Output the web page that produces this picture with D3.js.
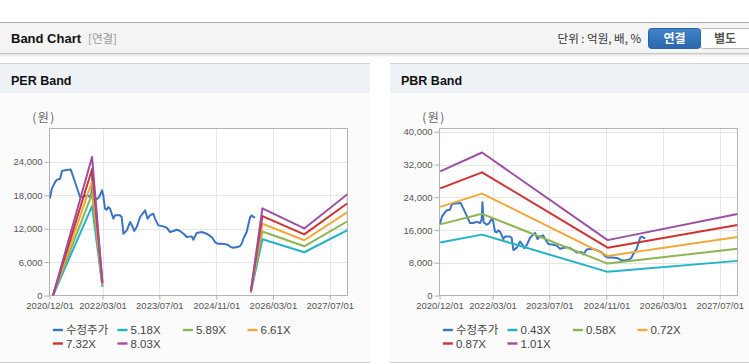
<!DOCTYPE html>
<html><head><meta charset="utf-8">
<script src="https://cdn.jsdelivr.net/npm/d3@7/dist/d3.min.js"></script>
<style>body{margin:0;background:#fff}svg{display:block}</style>
</head><body><svg id="c" width="749" height="364"></svg>
<script>
// ---------- DATA ----------
const xTickLabels = ["2020/12/01","2022/03/01","2023/07/01","2024/11/01","2026/03/01","2027/07/01"];
const xDomain = ["2020/12/01","2027/12/01"];

const priceDates = ["2020-12-04","2020-12-21","2021-01-19","2021-02-03","2021-03-01","2021-03-18","2021-04-13","2021-06-01","2021-06-18","2021-07-22","2021-08-20","2021-09-17","2021-10-16","2021-11-14","2021-11-28","2021-12-04","2021-12-14","2021-12-22","2022-01-10","2022-02-01","2022-02-24","2022-03-07","2022-03-22","2022-04-06","2022-04-19","2022-05-04","2022-06-02","2022-06-16","2022-07-28","2022-08-12","2022-08-27","2022-09-25","2022-10-23","2022-11-15","2022-11-27","2022-12-19","2023-01-17","2023-03-01","2023-03-22","2023-04-12","2023-05-10","2023-05-25","2023-06-22","2023-08-04","2023-09-03","2023-10-01","2023-10-30","2023-11-28","2023-12-25","2024-01-24","2024-02-22","2024-04-04","2024-04-18","2024-05-16","2024-06-28","2024-08-10","2024-09-23","2024-10-21","2024-11-11","2024-12-18","2025-02-01","2025-03-04","2025-03-27","2025-05-01","2025-05-22","2025-06-06","2025-06-21","2025-07-19","2025-08-18","2025-09-01","2025-09-15","2025-10-01"];
const priceValues = [17400,19200,20400,20820,20940,22380,22500,22620,21600,19500,17700,17700,18000,17700,18600,22800,18000,17700,17280,17700,18900,18000,15600,15420,15900,15600,13800,14400,14400,14100,11100,11700,13200,12300,11580,12300,14100,15300,13800,14400,14700,13800,12600,12420,12180,11400,11580,11820,11580,11100,10500,10620,10020,11220,11400,11100,10500,9600,9300,9300,9180,8700,8580,8700,8880,9300,10200,11400,14100,14400,14100,13980];

const perBandDates = ["2020-12-31","2021-12-01","2022-02-28","2022-03-01","2025-08-24","2025-12-01","2026-11-25","2027-12-01"];
const perNames = ["5.18X","5.89X","6.61X","7.32X","8.03X"];
const per518 = [0,16060,1550,null,520,10100,7770,11730];
const per589 = [0,18260,1770,null,590,11490,8840,13340];
const per661 = [0,20490,1980,null,660,12890,9920,14970];
const per732 = [0,22690,2200,null,730,14270,10980,16580];
const per803 = [0,24890,2410,null,800,15660,12050,18190];

const pbrBandDates = ["2020-12-07","2021-12-01","2024-11-12","2027-12-01"];
const pbrNames = ["0.43X","0.58X","0.72X","0.87X","1.01X"];
const pbr043 = [12940,14870,5780,8460];
const pbr058 = [17380,19950,7790,11450];
const pbr072 = [21650,24900,9670,14300];
const pbr087 = [26170,30090,11680,17200];
const pbr101 = [30330,34930,13530,19930];

const perYTicks = [0,6000,12000,18000,24000];
const pbrYTicks = [0,8000,16000,24000,32000,40000];
const priceName = "수정주가";

// ---------- STYLE ----------
const FONT = "'Liberation Sans', Arial, 'Noto Sans CJK KR', sans-serif";
const KFONT = "'Noto Sans CJK KR', 'Liberation Sans', sans-serif";
const colors = ["#3a74c3","#22b3c6","#8db552","#f2a83a","#d03232","#9b50a2"];

const svg = d3.select("#c");
svg.append("rect").attr("width",749).attr("height",364).attr("fill","#fff");

// header
const defs = svg.append("defs");
const sh = defs.append("linearGradient").attr("id","sh").attr("x1",0).attr("x2",0).attr("y1",0).attr("y2",1);
sh.append("stop").attr("offset","0").attr("stop-color","#000").attr("stop-opacity",0.12);
sh.append("stop").attr("offset","1").attr("stop-color","#000").attr("stop-opacity",0);
const bg = defs.append("linearGradient").attr("id","btn").attr("x1",0).attr("x2",0).attr("y1",0).attr("y2",1);
bg.append("stop").attr("offset","0").attr("stop-color","#4283cb");
bg.append("stop").attr("offset","1").attr("stop-color","#2a66ab");

svg.append("rect").attr("x",0).attr("y",22).attr("width",749).attr("height",1).attr("fill","#ababab");
svg.append("rect").attr("x",0).attr("y",23).attr("width",749).attr("height",30).attr("fill","#f4f4f4");
svg.append("rect").attr("x",0).attr("y",53).attr("width",749).attr("height",1).attr("fill","#c4c4c4");
svg.append("rect").attr("x",0).attr("y",54).attr("width",749).attr("height",3).attr("fill","url(#sh)");
svg.append("text").attr("x",11).attr("y",43).attr("font-family",FONT).attr("font-weight","bold")
  .attr("font-size",13).attr("fill","#111").text("Band Chart");
svg.append("text").attr("x",88).attr("y",43).attr("font-family",KFONT)
  .attr("font-size",11.5).attr("fill","#999").text("[연결]");
svg.append("text").attr("x",641).attr("y",43).attr("text-anchor","end").attr("font-family",KFONT)
  .attr("font-size",11.5).attr("fill","#333").text("단위 : 억원, 배, %");
svg.append("rect").attr("x",700.5).attr("y",28.5).attr("width",52).attr("height",20).attr("rx",2)
  .attr("fill","#fff").attr("stroke","#bcbcbc");
svg.append("rect").attr("x",648.5).attr("y",28.5).attr("width",52).attr("height",20).attr("rx",3)
  .attr("fill","url(#btn)").attr("stroke","#2a62a3");
svg.append("text").attr("x",674.5).attr("y",43).attr("text-anchor","middle").attr("font-family",KFONT)
  .attr("font-weight","bold").attr("font-size",12).attr("fill","#fff").text("연결");
svg.append("text").attr("x",725).attr("y",43).attr("text-anchor","middle").attr("font-family",KFONT)
  .attr("font-weight","bold").attr("font-size",12).attr("fill","#555").text("별도");

const parseD = d3.timeParse("%Y-%m-%d");
const parseT = d3.timeParse("%Y/%m/%d");
const fmtT = d3.timeFormat("%Y/%m/%d");

function panel(cfg){
  const g = svg.append("g");
  g.append("rect").attr("x",cfg.x0).attr("y",63).attr("width",cfg.w).attr("height",1).attr("fill","#d2d2d2");
  g.append("rect").attr("x",cfg.x0).attr("y",64).attr("width",cfg.w).attr("height",29).attr("fill","#eef2f7");
  g.append("rect").attr("x",cfg.x0).attr("y",93).attr("width",cfg.w).attr("height",269).attr("fill","#fbfbfb");
  g.append("rect").attr("x",cfg.x0).attr("y",362).attr("width",cfg.w).attr("height",1).attr("fill","#cfcfcf");
  g.append("text").attr("x",cfg.x0+11).attr("y",85).attr("font-family",FONT).attr("font-weight","bold")
    .attr("font-size",12.5).attr("fill","#111").text(cfg.title);

  const L = cfg.left, R = cfg.left+298, T = 128.5, B = 295.5;
  const x = d3.scaleTime().domain(xDomain.map(parseT)).range([L,R]);
  const y = d3.scaleLinear().domain([0,cfg.yMax]).range([B,T]);
  g.append("rect").attr("x",L).attr("y",T).attr("width",R-L).attr("height",B-T).attr("fill","#fff");

  const xt = xTickLabels.map(parseT);
  // grid
  g.append("g").selectAll("line").data(cfg.yTicks.filter(v=>v>0)).join("line")
    .attr("x1",L).attr("x2",R).attr("y1",d=>Math.round(y(d))+0.5).attr("y2",d=>Math.round(y(d))+0.5)
    .attr("stroke","#e6e6e6");
  g.append("g").selectAll("line").data(xt.slice(1)).join("line")
    .attr("x1",d=>Math.round(x(d))+0.5).attr("x2",d=>Math.round(x(d))+0.5).attr("y1",T).attr("y2",B)
    .attr("stroke","#e6e6e6");

  // axes via d3
  const yAxis = d3.axisLeft(y).tickValues(cfg.yTicks).tickSize(5).tickPadding(2).tickFormat(d3.format(","));
  const ya = g.append("g").attr("transform",`translate(${L},0)`).call(yAxis);
  const xAxis = d3.axisBottom(x).tickValues(xt).tickSize(4).tickPadding(3).tickFormat(fmtT);
  const xa = g.append("g").attr("transform",`translate(0,${B})`).call(xAxis);
  [ya,xa].forEach(a=>{
    a.select(".domain").remove();
    a.selectAll("line").attr("stroke","#b0b0b0");
    a.selectAll("text").attr("font-family",FONT).attr("font-size",9.5).attr("fill","#555");
  });
  g.append("rect").attr("x",L).attr("y",T).attr("width",R-L).attr("height",B-T)
    .attr("fill","none").attr("stroke","#b4b4b4");
  g.append("text").attr("x",L-5.5).attr("y",122).attr("text-anchor","middle").attr("font-family",KFONT)
    .attr("font-size",12).attr("letter-spacing",1.5).attr("fill","#666").text("(원)");

  const clipId = "clip"+cfg.x0;
  defs.append("clipPath").attr("id",clipId).append("rect").attr("x",L).attr("y",T).attr("width",R-L).attr("height",B-T);
  const lines = g.append("g").attr("clip-path",`url(#${clipId})`);
  const line = d3.line().defined(d=>d[1]!=null).x(d=>x(d[0])).y(d=>y(d[1]));

  const pd = priceDates.map((d,i)=>[parseD(d),priceValues[i]]);
  lines.append("path").attr("d",line(pd)).attr("fill","none").attr("stroke",colors[0])
    .attr("stroke-width",2).attr("stroke-linejoin","round");
  cfg.bands.forEach((vals,k)=>{
    const bd = cfg.bandDates.map((d,i)=>[parseD(d),vals[i]]);
    lines.append("path").attr("d",line(bd)).attr("fill","none").attr("stroke",colors[k+1])
      .attr("stroke-width",2).attr("stroke-linejoin","round");
  });

  // legend
  const names = [priceName].concat(cfg.names);
  const colX = [0,64.6,130,194.6];
  names.forEach((n,i)=>{
    const row = i<4?0:1, col = i<4?i:i-4;
    const lx = L+3.4+colX[col], ly = row===0?330:343.5;
    g.append("rect").attr("x",lx).attr("y",ly-1.2).attr("width",10).attr("height",2.4).attr("fill",colors[i]);
    g.append("text").attr("x",lx+13).attr("y",ly+4).attr("font-family",i===0?KFONT:FONT)
      .attr("font-size",i===0?11.5:11.5).attr("fill","#444").text(n);
  });
}

panel({x0:0,w:370,title:"PER Band",left:49.5,yMax:30000,yTicks:perYTicks,
  bandDates:perBandDates,bands:[per518,per589,per661,per732,per803],names:perNames});
panel({x0:390,w:359,title:"PBR Band",left:439.5,yMax:40800,yTicks:pbrYTicks,
  bandDates:pbrBandDates,bands:[pbr043,pbr058,pbr072,pbr087,pbr101],names:pbrNames});
</script></body></html>
